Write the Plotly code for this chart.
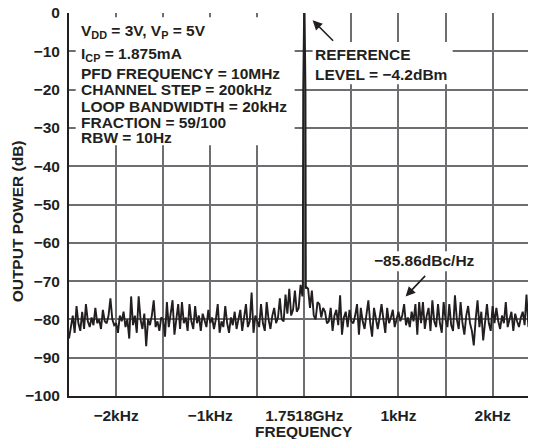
import plotly.graph_objects as go

# ---- data ----
step_hz = 20
left_noise_db = [
    -85.0, -82.5, -79.0, -83.5, -76.5, -81.0, -83.0, -78.0, -82.5, -76.0, -80.5, -82.0, -79.5, -81.5, -77.0, -81.0, -80.0, -82.5, -77.5, -80.5, -81.0, -79.0, -74.5, -80.0, -81.5,
    -81.0, -83.5, -79.0, -80.5, -78.0, -82.0, -80.0, -85.0, -74.0, -81.5, -79.0, -83.5, -74.0, -80.0, -82.5, -78.5, -87.0, -80.0, -81.5, -79.0, -75.0, -82.0, -80.5, -83.0, -79.5,
    -80.0, -84.5, -75.5, -82.0, -79.0, -75.0, -84.0, -80.5, -76.0, -82.5, -75.5, -81.0, -79.5, -83.0, -76.0, -80.5, -82.5, -76.5, -81.0, -79.0, -83.0, -78.5, -80.0, -82.0, -77.5,
    -81.0, -79.5, -82.5, -80.0, -76.0, -83.5, -80.5, -82.0, -76.5, -81.0, -83.5, -79.5, -81.5, -78.0, -82.5, -80.0, -77.5, -83.0, -80.0, -76.0, -82.0, -80.5, -73.0, -83.5, -79.0,
    -80.5, -82.0, -76.0, -81.0, -83.0, -75.5, -80.0, -82.5, -79.0, -77.0, -81.0, -79.5, -74.5, -80.0, -80.5, -73.5, -78.5, -72.0, -79.0, -77.5, -72.5, -78.0, -77.0, -71.0, -74.0,
]
carrier_offsets_hz = [-16, -12, 0, 12, 16]
carrier_db = [-72.0, -20.0, 5.0, -20.0, -72.0]
right_noise_db = [
    -71.5, -72.0, -77.0, -72.5, -79.0, -80.0, -75.5, -76.0, -79.5, -77.0, -78.0, -81.0, -80.5, -77.0, -83.0, -79.0, -77.5, -81.5, -73.7, -84.0, -79.5, -78.0, -82.0, -77.5, -80.5,
    -81.0, -79.0, -76.0, -84.0, -77.0, -80.5, -82.5, -79.0, -75.0, -81.0, -84.5, -77.0, -80.0, -82.5, -79.5, -76.0, -80.0, -83.5, -77.0, -81.0, -79.5, -77.5, -82.0, -80.0, -78.0,
    -80.5, -79.0, -76.0, -81.5, -79.5, -82.0, -78.0, -80.5, -76.0, -84.0, -75.5, -81.0, -75.5, -82.5, -79.0, -77.0, -83.0, -75.0, -80.5, -82.0, -76.0, -81.0, -83.5, -75.5, -80.0,
    -82.0, -76.0, -81.5, -83.0, -73.7, -80.0, -82.5, -75.5, -81.0, -84.0, -79.0, -76.5, -81.0, -83.0, -86.8, -80.0, -75.0, -82.0, -78.0, -85.5, -80.5, -76.0, -81.0, -83.0, -76.5,
    -81.0, -77.0, -80.5, -82.5, -79.0, -81.0, -75.5, -82.0, -80.0, -78.0, -83.0, -78.5, -80.5, -82.0, -79.5, -78.0, -81.5, -73.5, -82.0, -80.0, -77.0, -81.5, -78.5, -82.0, -80.0,
]
x_tick_vals = [-2000, -1500, -1000, -500, 0, 500, 1000, 1500, 2000]
x_tick_text = ["−2kHz", "", "−1kHz", "", "1.7518GHz", "", "1kHz", "", "2kHz"]
y_tick_vals = [0, -10, -20, -30, -40, -50, -60, -70, -80, -90, -100]
y_tick_text = ["0", "−10", "−20", "−30", "−40", "−50", "−60", "−70", "−80", "−90", "−100"]
info_lines = [
    "V<sub>DD</sub> = 3V, V<sub>P</sub> = 5V",
    "I<sub>CP</sub> = 1.875mA",
    "PFD FREQUENCY = 10MHz",
    "CHANNEL STEP = 200kHz",
    "LOOP BANDWIDTH = 20kHz",
    "FRACTION = 59/100",
    "RBW = 10Hz",
]
info_y = [-4.8, -10.8, -15.7, -20.0, -24.4, -28.5, -32.5]

# ---- build series ----
left_x = [-2500 + i * step_hz for i in range(len(left_noise_db))]
right_x = [step_hz + i * step_hz for i in range(len(right_noise_db))]
xs = left_x + carrier_offsets_hz + right_x
ys = left_noise_db + carrier_db + right_noise_db

INK = "#231f20"
GRID = "#6d6e71"
FONT = "Liberation Sans, Arial, Helvetica, sans-serif"
FS = 15.5


def f(size=FS):
    return dict(family=FONT, size=size, color=INK, weight="bold")


fig = go.Figure()
fig.add_trace(go.Scatter(x=xs, y=ys, mode="lines",
                         line=dict(color=INK, width=1.9), hoverinfo="skip"))

# the page adds an 8px body margin, so the figure is sized to fill the rest of the window
fig.update_layout(
    width=528, height=431,
    margin=dict(l=61, r=0, t=5, b=43, autoexpand=False),
    paper_bgcolor="white", plot_bgcolor="white",
    showlegend=False,
    font=f(),
    xaxis=dict(range=[-2500, 2461], tickmode="array", tickvals=x_tick_vals,
               ticktext=["<b>%s</b>" % t if t else "" for t in x_tick_text],
               showgrid=True, gridcolor=GRID, gridwidth=1.5, zeroline=False,
               showline=True, linecolor=INK, linewidth=2, ticks="",
               automargin=False, ticklabelstandoff=4, ticklabeloverflow="allow",
               tickfont=f()),
    yaxis=dict(range=[-100, 0], tickmode="array", tickvals=y_tick_vals,
               ticktext=["<b>%s</b>" % t for t in y_tick_text],
               showgrid=True, gridcolor=GRID, gridwidth=1.5, zeroline=False,
               showline=True, linecolor=INK, linewidth=2, ticks="",
               automargin=False, ticklabelstandoff=4, ticklabeloverflow="allow",
               tickfont=f()),
)

# white backgrounds behind the labels
for x0, x1, y0, y1 in [(-2429, -103, -1.1, -34.5), (88, 1576, -7.6, -18.6), (715, 1840, -62.2, -67.4)]:
    fig.add_shape(type="rect", xref="x", yref="y", x0=x0, x1=x1, y0=y0, y1=y1,
                  fillcolor="white", line=dict(width=0), layer="between")

ann = []
for t, yy in zip(info_lines, info_y):
    ann.append(dict(x=-2390, y=yy, xref="x", yref="y", text="<b>%s</b>" % t,
                    showarrow=False, xanchor="left", yanchor="middle", font=f()))
ann.append(dict(x=90, y=-10.8, xref="x", yref="y", text="<b>REFERENCE</b>",
                showarrow=False, xanchor="left", yanchor="middle", font=f()))
ann.append(dict(x=90, y=-16.0, xref="x", yref="y", text="<b>LEVEL = −4.2dBm</b>",
                showarrow=False, xanchor="left", yanchor="middle", font=f()))
ann.append(dict(x=1278, y=-64.75, xref="x", yref="y", text="<b>−85.86dBc/Hz</b>",
                showarrow=False, xanchor="center", yanchor="middle", font=f()))
# arrows
ann.append(dict(x=88, y=-1.9, xref="x", yref="y", text="", showarrow=True,
                ax=22, ay=22, arrowhead=2, arrowsize=1.2, arrowwidth=1.6, arrowcolor=INK))
ann.append(dict(x=1076, y=-74.0, xref="x", yref="y", text="", showarrow=True,
                ax=21, ay=-22, arrowhead=2, arrowsize=1.2, arrowwidth=1.6, arrowcolor=INK))
# axis titles
ann.append(dict(x=0, y=0, xref="x", yref="paper", yshift=-35, text="<b>FREQUENCY</b>",
                showarrow=False, xanchor="center", yanchor="middle", font=f()))
ann.append(dict(x=0, y=-54.4, xref="paper", yref="y", xshift=-52, text="<b>OUTPUT POWER (dB)</b>",
                showarrow=False, xanchor="center", yanchor="middle", textangle=-90, font=f()))
fig.update_layout(annotations=ann)

fig.write_html("out.html")
